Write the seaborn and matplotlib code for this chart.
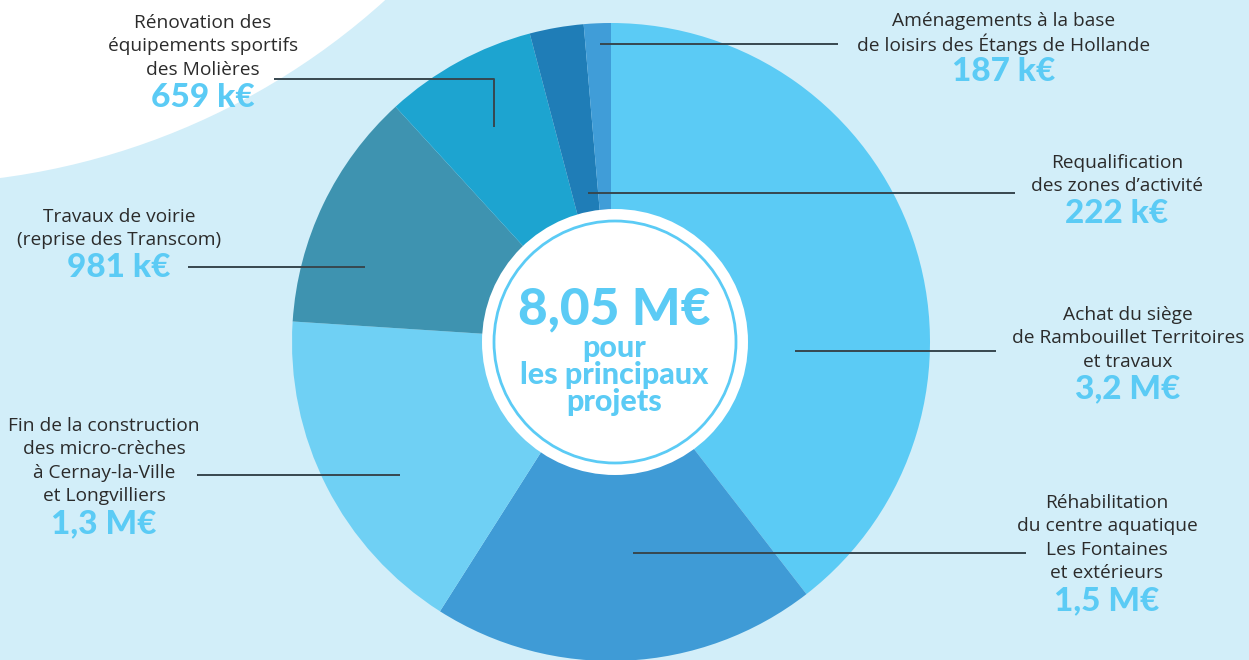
import matplotlib.pyplot as plt
import seaborn as sns
from matplotlib.patches import Circle

# project budgets, clockwise from 12 o'clock
projects = [
    "Achat du siège\nde Rambouillet Territoires\net travaux",
    "Réhabilitation\ndu centre aquatique\nLes Fontaines\net extérieurs",
    "Fin de la construction\ndes micro-crèches\nà Cernay-la-Ville\net Longvilliers",
    "Travaux de voirie\n(reprise des Transcom)",
    "Rénovation des\néquipements sportifs\ndes Molières",
    "Requalification\ndes zones d’activité",
    "Aménagements à la base\nde loisirs des Étangs de Hollande",
]
amount_labels = ["3,2 M€", "1,5 M€", "1,3 M€", "981 k€", "659 k€", "222 k€", "187 k€"]
# slice sizes (k€) as they are drawn in the artwork, which is not exactly to scale
slice_sizes = [3180, 1570, 1370, 980, 620, 220, 110]
total_label = "8,05 M€"
slice_colors = ["#5BCBF5", "#3F9BD6", "#6FD0F4", "#3E93B0", "#1DA4D0", "#1F7DB7", "#409DD8"]

# label layout in image pixels: text centre x, first line y, leader line (x0, x1, y, elbow_y)
label_pos = [
    (1128, 315, (795, 996, 351, None)),
    (1107, 503, (633, 1026, 553, None)),
    (104, 426, (197, 400, 475, None)),
    (119, 217, (188, 365, 267, None)),
    (203, 23, (274, 494, 79, 127)),
    (1117, 163, (588, 1015, 193, None)),
    (1004, 21, (600, 838, 44, None)),
]

W, H = 1249, 660
BG = "#D2EEF9"
ACCENT = "#5BCBF5"
TXT = "#2B2B2B"

sns.set_theme(style="white")
plt.rcParams["font.family"] = ["Open Sans", "DejaVu Sans"]

fig = plt.figure(figsize=(W / 100, H / 100), dpi=100)
fig.patch.set_facecolor(BG)
ax = fig.add_axes([0, 0, 1, 1])
ax.set_facecolor(BG)

def Y(y):
    return H - y

# white swoosh in the top-left corner
ax.add_patch(Circle((-92, Y(-527)), 711, facecolor="white", edgecolor="none", zorder=0))

colors = sns.color_palette(slice_colors)
ax.pie(slice_sizes, colors=colors, startangle=90, counterclock=False,
       center=(611, Y(342)), radius=319, wedgeprops=dict(linewidth=0))

# centre badge
ax.add_patch(Circle((615, Y(342)), 133, facecolor="white", edgecolor="none", zorder=5))
ax.add_patch(Circle((615, Y(342)), 121, facecolor="none", edgecolor=ACCENT, lw=2.0, zorder=6))
ax.text(614, Y(310), total_label, ha="center", va="center", fontsize=37,
        fontweight="black", color=ACCENT, zorder=7, family="Lato")
for txt, y in zip(["pour", "les principaux", "projets"], [348, 375, 402]):
    ax.text(614, Y(y), txt, ha="center", va="center", fontsize=22,
            fontweight="black", color=ACCENT, zorder=7, family="Lato")

# labels + leader lines
for name, amt, (cx, y0, (lx0, lx1, ly, elbow)) in zip(projects, amount_labels, label_pos):
    lines = name.split("\n")
    for i, line in enumerate(lines):
        ax.text(cx, Y(y0 + i * 23.4), line, ha="center", va="center",
                fontsize=13.8, color=TXT, zorder=8)
    ax.text(cx, Y(y0 + len(lines) * 23.4 + 4), amt, ha="center", va="center",
            fontsize=24, fontweight="black", color=ACCENT, zorder=8, family="Lato")
    xs, ys = [lx0, lx1], [Y(ly), Y(ly)]
    if elbow is not None:
        xs.append(lx1)
        ys.append(Y(elbow))
    ax.plot(xs, ys, color="#37474F", lw=1.4, solid_capstyle="butt", zorder=9)

ax.set_xlim(0, W)
ax.set_ylim(0, H)
ax.set_aspect("equal")
ax.axis("off")

fig.savefig("out.png", dpi=100, facecolor=BG)
